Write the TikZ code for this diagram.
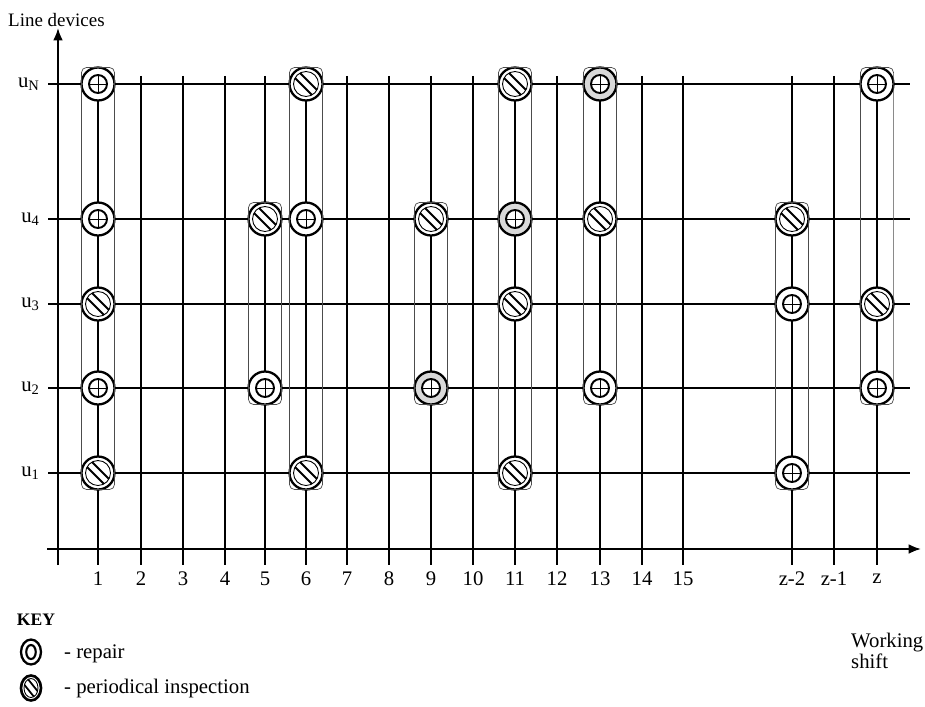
\documentclass[tikz,border=0pt]{standalone}
\usepackage{fontspec}
\setmainfont{Liberation Serif}
\usetikzlibrary{arrows.meta,fit,shapes.geometric}

\tikzset{
  grid line/.style={line width=0.6pt},
  axis line/.style={line width=1.1pt,-{Latex[length=7pt,width=5.5pt]}},
  txt/.style={font=\fontsize{11.8}{12}\selectfont},
  device/.style={circle,draw,line width=1.3pt,fill=white,minimum size=0.66cm,inner sep=0pt},
  repair/.style={device,path picture={
    \coordinate (pc) at (path picture bounding box.center);
    \draw[line width=1.1pt,fill=white] (pc) circle (0.18cm);
    \draw[line width=0.3pt] ([xshift=-0.18cm]pc) -- ([xshift=0.18cm]pc)
      ([yshift=-0.18cm]pc) -- ([yshift=0.18cm]pc);
  }},
  worn/.style={fill=gray!30}, % shaded ring
  inspect/.style={device,path picture={
    \coordinate (pc) at (path picture bounding box.center);
    \draw[line width=0.5pt] (pc) circle (0.25cm);
    \clip (pc) circle (0.25cm);
    \draw[line width=1.1pt]
      ([xshift=0.05cm,yshift=0.05cm]path picture bounding box.north west) --
      ([xshift=0.05cm,yshift=0.05cm]path picture bounding box.south east)
      ([xshift=-0.05cm,yshift=-0.05cm]path picture bounding box.north west) --
      ([xshift=-0.05cm,yshift=-0.05cm]path picture bounding box.south east);
  }},
  group/.style={draw=black!70,line width=0.4pt,rounded corners=3pt,inner sep=-0.6pt},
  key repair/.style={ellipse,draw,line width=1.3pt,minimum width=0.4cm,minimum height=0.5cm,inner sep=0pt,
    path picture={\draw[line width=1.2pt] (path picture bounding box.center) ellipse (0.095cm and 0.14cm);}},
  key inspect/.style={ellipse,draw,line width=1.5pt,minimum width=0.4cm,minimum height=0.5cm,inner sep=0pt,
    path picture={
    \coordinate (pc) at (path picture bounding box.center);
    \draw[line width=0.5pt] (pc) ellipse (0.14cm and 0.19cm);
    \clip (pc) ellipse (0.14cm and 0.19cm);
    \draw[line width=1pt]
      ([xshift=0.045cm,yshift=0.045cm]path picture bounding box.north west) --
      ([xshift=0.045cm,yshift=0.045cm]path picture bounding box.south east)
      ([xshift=-0.045cm,yshift=-0.045cm]path picture bounding box.north west) --
      ([xshift=-0.045cm,yshift=-0.045cm]path picture bounding box.south east);
  }},
}

\begin{document}
\begin{tikzpicture}[x=0.02cm,y=-0.02cm]
\useasboundingbox (0,0) rectangle (925,706);
% axes
\draw[axis line] (58,565) -- (58,28);
\draw[axis line] (47,549) -- (921,549);
\node[anchor=west,font=\fontsize{10.8}{12}\selectfont] (ylabel) at (2,20) {Line devices};

% line devices (rows)
\foreach \r/\yy in {N/84,4/219,3/304,2/388,1/473} {
  \draw[grid line] (48,\yy) -- (910,\yy);
  \node[txt,anchor=east] (lab-u\r) at (46,\yy) {u\textsubscript{\r}};
  \coordinate (row-\r) at (0,\yy);
}

% working shifts (columns)
\foreach \c/\xx/\t in {1/98/1,2/141/2,3/183/3,4/225/4,5/265/5,6/306/6,7/347/7,8/389/8,
    9/431/9,10/473/10,11/515/11,12/557/12,13/600/13,14/642/14,15/683/15,
    za/792/z-2,zb/834/z-1,z/877/z} {
  \draw[grid line] (\xx,76) -- (\xx,565);
  \node[txt] (lab-\c) at (\xx,579) {\t};
  \coordinate (col-\c) at (\xx,0);
}

% shift 1
\node[repair] (s1-N) at (col-1 |- row-N) {};
\node[repair] (s1-4) at (col-1 |- row-4) {};
\node[inspect] (s1-3) at (col-1 |- row-3) {};
\node[repair] (s1-2) at (col-1 |- row-2) {};
\node[inspect] (s1-1) at (col-1 |- row-1) {};
\node[group,fit=(s1-N)(s1-1)] (g1) {};

% shift 5
\node[inspect] (s5-4) at (col-5 |- row-4) {};
\node[repair] (s5-2) at (col-5 |- row-2) {};
\node[group,fit=(s5-4)(s5-2)] (g5) {};

% shift 6
\node[inspect] (s6-N) at (col-6 |- row-N) {};
\node[repair] (s6-4) at (col-6 |- row-4) {};
\node[inspect] (s6-1) at (col-6 |- row-1) {};
\node[group,fit=(s6-N)(s6-1)] (g6) {};

% shift 9
\node[inspect] (s9-4) at (col-9 |- row-4) {};
\node[repair,worn] (s9-2) at (col-9 |- row-2) {};
\node[group,fit=(s9-4)(s9-2)] (g9) {};

% shift 11
\node[inspect] (s11-N) at (col-11 |- row-N) {};
\node[repair,worn] (s11-4) at (col-11 |- row-4) {};
\node[inspect] (s11-3) at (col-11 |- row-3) {};
\node[inspect] (s11-1) at (col-11 |- row-1) {};
\node[group,fit=(s11-N)(s11-1)] (g11) {};

% shift 13
\node[repair,worn] (s13-N) at (col-13 |- row-N) {};
\node[inspect] (s13-4) at (col-13 |- row-4) {};
\node[repair] (s13-2) at (col-13 |- row-2) {};
\node[group,fit=(s13-N)(s13-2)] (g13) {};

% shift z-2
\node[inspect] (sza-4) at (col-za |- row-4) {};
\node[repair] (sza-3) at (col-za |- row-3) {};
\node[repair] (sza-1) at (col-za |- row-1) {};
\node[group,fit=(sza-4)(sza-1)] (gza) {};

% shift z
\node[repair] (sz-N) at (col-z |- row-N) {};
\node[inspect] (sz-3) at (col-z |- row-3) {};
\node[repair] (sz-2) at (col-z |- row-2) {};
\node[group,fit=(sz-N)(sz-2)] (gz) {};

% key
\node[font=\bfseries\fontsize{10}{12}\selectfont] (key) at (36,620) {KEY};
\node[key repair] (key-rep) at (31,652) {};
\node[txt,anchor=west] (key-rep-txt) at (58,654) {- repair};
\node[key inspect] (key-ins) at (31,688) {};
\node[txt,anchor=west] (key-ins-txt) at (58,689) {- periodical inspection};
\node[txt,anchor=north west,align=left] (xlabel) at (845,627) {Working\\shift};
\end{tikzpicture}
\end{document}
